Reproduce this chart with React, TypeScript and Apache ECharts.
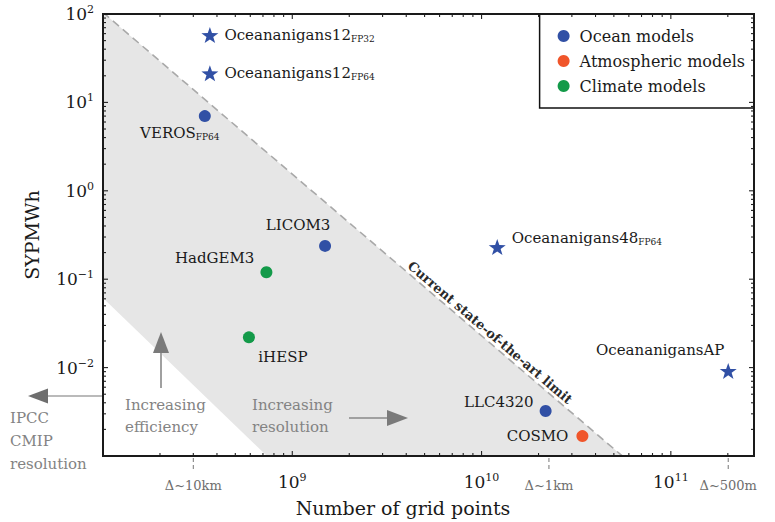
import React, { useEffect, useRef } from "react";
import * as echarts from "echarts";

// ---------- data ----------
const oceanCircleNames = ["VEROS", "LICOM3", "LLC4320"];
const oceanCircleSubs = ["FP64", "", ""];
const oceanCircleX = [3.45e8, 1.49e9, 2.18e10];
const oceanCircleY = [7.0, 0.238, 0.00323];

const oceanStarNames = ["Oceananigans12", "Oceananigans12", "Oceananigans48", "OceananigansAP"];
const oceanStarSubs = ["FP32", "FP64", "FP64", ""];
const oceanStarX = [3.67e8, 3.67e8, 1.21e10, 2.01e11];
const oceanStarY = [57.8, 21.3, 0.231, 0.00917];

const atmosNames = ["COSMO"];
const atmosX = [3.41e10];
const atmosY = [0.00168];

const climateNames = ["HadGEM3", "iHESP"];
const climateX = [7.3e8, 5.9e8];
const climateY = [0.12, 0.022];

// state-of-the-art limit (upper edge of shaded band) and lower edge
const limitX = [1e8, 1e11];
const limitY = [104, 3.4e-4];
const lowerEdgeX = [1e8, 1e9];
const lowerEdgeY = [0.0612, 5.3e-4];

const deltaX = [3.0e8, 2.27e10, 2.01e11];
const deltaLabels = ["Δ~10km", "Δ~1km", "Δ~500m"];

const legendNames = ["Ocean models", "Atmospheric models", "Climate models"];

const xMin = 1e8;
const xMax = 2.75e11;
const yMin = 1e-3;
const yMax = 1e2;
const xDecades = [8, 9, 10, 11];
const yDecades = [-3, -2, -1, 0, 1];
const minorMultipliers = [2, 3, 4, 5, 6, 7, 8, 9];

// ---------- styles / layout ----------
const FONT = "DejaVu Serif";
const BLUE = "#3150a5";
const ORANGE = "#f0552a";
const GREEN = "#139a49";
const TEXT = "#1a1a1a";
const GRAY_TEXT = "#838383";
const STAR =
  "path://M0,-10 L2.35,-3.24 L9.51,-3.09 L3.8,1.24 L5.88,8.09 L0,4 L-5.88,8.09 L-3.8,1.24 L-9.51,-3.09 L-2.35,-3.24 Z";

const circleLabelLayout = [
  { position: "bottom", offset: [-25, -4] },
  { position: "top", offset: [-27, 0] },
  { position: "left", offset: [0, -9] },
];
const starLabelLayout = [
  { position: "right", offset: [0, 0] },
  { position: "right", offset: [0, 0] },
  { position: "right", offset: [0, -9] },
  { position: "top", offset: [-68, 2] },
];
const atmosLabelLayout = [{ position: "left", offset: [0, 0] }];
const climateLabelLayout = [
  { position: "left", offset: [0, -14] },
  { position: "bottom", offset: [34, -1] },
];

const richLabel = {
  n: { fontFamily: FONT, fontSize: 15, color: TEXT, lineHeight: 17 },
  s: { fontFamily: FONT, fontSize: 9, color: TEXT, lineHeight: 11, verticalAlign: "bottom" },
};

const supMap: Record<string, string> = { "-": "−" };
function powLabel(v: number) {
  const l = Math.log10(v);
  const e = Math.round(l);
  if (Math.abs(l - e) > 1e-6) return "";
  const s = String(e).split("").map((c) => supMap[c] || c).join("");
  return `{b|10}{s|${s}}`;
}
const axisRich = {
  b: { fontFamily: FONT, fontSize: 17, color: TEXT, lineHeight: 20 },
  s: { fontFamily: FONT, fontSize: 11, color: TEXT, lineHeight: 12, verticalAlign: "top" },
};

function buildPoints(
  names: string[],
  subs: string[] | null,
  xs: number[],
  ys: number[],
  layout: { position: string; offset: number[] }[]
) {
  return xs.map((x, i) => ({
    value: [x, ys[i]],
    name: names[i],
    sub: subs ? subs[i] : "",
    label: { position: layout[i].position, offset: layout[i].offset },
  }));
}

function labelFormatter(p: any) {
  const d = p.data;
  return d.sub ? `{n|${d.name}}{s|${d.sub}}` : `{n|${d.name}}`;
}

function tickData() {
  const out: number[][] = [];
  xDecades.forEach((d) => {
    out.push([Math.pow(10, d), 1, 0]);
    minorMultipliers.forEach((m) => {
      const v = m * Math.pow(10, d);
      if (v < xMax) out.push([v, 1, 1]);
    });
  });
  yDecades.concat([2]).forEach((d) => {
    out.push([1e9, Math.pow(10, d), 2]);
    if (d < 2)
      minorMultipliers.forEach((m) => {
        out.push([1e9, m * Math.pow(10, d), 3]);
      });
  });
  return out;
}

export default function App() {
  const ref = useRef<HTMLDivElement>(null);
  useEffect(() => {
    document.body.style.margin = "0";
    const chart = echarts.init(ref.current!, null, { renderer: "svg" });

    const scatterLabel = {
      show: true,
      formatter: labelFormatter,
      rich: richLabel,
      distance: 6,
    };

    const option: any = {
      animation: false,
      backgroundColor: "#fff",
      grid: { left: 103, top: 14, right: 21, bottom: 66, containLabel: false },
      xAxis: {
        type: "log",
        logBase: 10,
        min: xMin,
        max: xMax,
        axisLine: { show: false },
        axisTick: { show: false },
        splitLine: { show: false },
        axisLabel: {
          formatter: powLabel,
          rich: axisRich,
          margin: 16,
          showMinLabel: false,
          showMaxLabel: false,
        },
        name: "Number of grid points",
        nameLocation: "middle",
        nameGap: 42,
        nameTextStyle: { fontFamily: FONT, fontSize: 19, color: TEXT, padding: [0, 51, 0, 0] },
      },
      yAxis: {
        type: "log",
        logBase: 10,
        min: yMin,
        max: yMax,
        axisLine: { show: false },
        axisTick: { show: false },
        splitLine: { show: false },
        axisLabel: {
          formatter: powLabel,
          rich: axisRich,
          margin: 9,
          showMinLabel: false,
        },
        name: "SYPMWh",
        nameLocation: "middle",
        nameGap: 62,
        nameTextStyle: { fontFamily: FONT, fontSize: 19, color: TEXT },
      },
      legend: {
        data: legendNames.map((n) => ({ name: n, icon: "circle" })),
        orient: "vertical",
        right: 21,
        top: 14,
        padding: [13, 9, 13, 18],
        itemWidth: 12,
        itemHeight: 12,
        itemGap: 7,
        borderColor: "#111",
        borderWidth: 1.5,
        backgroundColor: "#fff",
        selectedMode: false,
        textStyle: { fontFamily: FONT, fontSize: 16, color: TEXT, lineHeight: 18, padding: [0, 0, 0, 5] },
      },
      series: [
        {
          name: "shade",
          type: "custom",
          clip: true,
          z: 1,
          silent: true,
          data: [[limitX[0], limitY[0]]],
          renderItem: (_params: any, api: any) => {
            const pts = [
              api.coord([limitX[0], limitY[0]]),
              api.coord([limitX[1], limitY[1]]),
              api.coord([lowerEdgeX[1], lowerEdgeY[1]]),
              api.coord([lowerEdgeX[0], lowerEdgeY[0]]),
            ];
            return { type: "polygon", shape: { points: pts }, style: { fill: "#e6e6e6" } };
          },
        },
        {
          name: "limit",
          type: "line",
          clip: true,
          z: 2,
          silent: true,
          symbol: "none",
          data: limitX.map((x, i) => [x, limitY[i]]),
          lineStyle: { color: "#a9a9a9", width: 1.6, type: [8, 5] },
        },
        {
          name: "Ocean models",
          type: "scatter",
          z: 5,
          symbol: "circle",
          symbolSize: 12,
          itemStyle: { color: BLUE, opacity: 1 },
          label: scatterLabel,
          data: buildPoints(oceanCircleNames, oceanCircleSubs, oceanCircleX, oceanCircleY, circleLabelLayout),
        },
        {
          name: "Ocean models",
          type: "scatter",
          z: 5,
          symbol: STAR,
          symbolSize: [17, 16],
          itemStyle: { color: BLUE, opacity: 1 },
          label: scatterLabel,
          data: buildPoints(oceanStarNames, oceanStarSubs, oceanStarX, oceanStarY, starLabelLayout),
        },
        {
          name: "Atmospheric models",
          type: "scatter",
          z: 5,
          symbol: "circle",
          symbolSize: 12,
          itemStyle: { color: ORANGE, opacity: 1 },
          label: { ...scatterLabel, distance: 8 },
          data: buildPoints(atmosNames, null, atmosX, atmosY, atmosLabelLayout),
        },
        {
          name: "Climate models",
          type: "scatter",
          z: 5,
          symbol: "circle",
          symbolSize: 12,
          itemStyle: { color: GREEN, opacity: 1 },
          label: scatterLabel,
          data: buildPoints(climateNames, null, climateX, climateY, climateLabelLayout),
        },
        {
          name: "ticks",
          type: "custom",
          clip: false,
          z: 8,
          silent: true,
          data: tickData(),
          encode: { x: 0, y: 1 },
          renderItem: (params: any, api: any) => {
            const cs = params.coordSys;
            const kind = api.value(2);
            const p = api.coord([api.value(0), api.value(1)]);
            const left = cs.x,
              right = cs.x + cs.width,
              top = cs.y,
              bottom = cs.y + cs.height;
            const len = kind % 2 === 0 ? 5 : 3;
            const style = { stroke: "#222", lineWidth: 1.1 };
            if (kind < 2) {
              return {
                type: "group",
                children: [
                  { type: "line", shape: { x1: p[0], y1: bottom, x2: p[0], y2: bottom - len }, style },
                  { type: "line", shape: { x1: p[0], y1: top, x2: p[0], y2: top + len }, style },
                ],
              };
            }
            return {
              type: "group",
              children: [
                { type: "line", shape: { x1: left, y1: p[1], x2: left + len, y2: p[1] }, style },
                { type: "line", shape: { x1: right, y1: p[1], x2: right - len, y2: p[1] }, style },
              ],
            };
          },
        },
        {
          name: "frame",
          type: "custom",
          clip: false,
          z: 9,
          silent: true,
          data: [[xMin, yMin]],
          renderItem: (params: any) => {
            const cs = params.coordSys;
            return {
              type: "rect",
              shape: { x: cs.x, y: cs.y, width: cs.width, height: cs.height },
              style: { fill: "none", stroke: "#1a1a1a", lineWidth: 2 },
            };
          },
        },
        {
          name: "delta",
          type: "custom",
          clip: false,
          z: 9,
          silent: true,
          data: deltaX.map((x) => [x, yMin]),
          renderItem: (params: any, api: any) => {
            const p = api.coord([api.value(0), api.value(1)]);
            return {
              type: "group",
              children: [
                {
                  type: "line",
                  shape: { x1: p[0], y1: p[1] + 2, x2: p[0], y2: p[1] + 13 },
                  style: { stroke: "#777", lineWidth: 1, lineDash: [4, 3] },
                },
                {
                  type: "text",
                  x: p[0],
                  y: p[1] + 29,
                  style: {
                    text: deltaLabels[params.dataIndex],
                    fontFamily: FONT,
                    fontSize: 13,
                    fill: "#6e6e6e",
                    align: "center",
                    verticalAlign: "middle",
                  },
                },
              ],
            };
          },
        },
      ],
    };
    chart.setOption(option);

    // rotated label along the limit line
    const a = chart.convertToPixel({ gridIndex: 0 }, [limitX[0], limitY[0]]) as number[];
    const b = chart.convertToPixel({ gridIndex: 0 }, [limitX[1], limitY[1]]) as number[];
    const ang = Math.atan2(b[1] - a[1], b[0] - a[0]);
    const t = 0.6725;
    const cx = a[0] + (b[0] - a[0]) * t + Math.sin(ang) * 8;
    const cy = a[1] + (b[1] - a[1]) * t - Math.cos(ang) * 8;

    const arrowGray = "#7a7a7a";
    const shaftGray = "#a0a0a0";
    chart.setOption({
      graphic: [
        {
          type: "text",
          z: 100,
          x: cx,
          y: cy,
          rotation: -ang,
          style: {
            text: "Current state-of-the-art limit",
            fontFamily: FONT,
            fontSize: 13,
            fontWeight: "bold",
            fill: "#2a2a2a",
            align: "center",
            verticalAlign: "middle",
          },
        },
        // increasing efficiency arrow
        { type: "line", z: 100, shape: { x1: 161, y1: 388, x2: 161, y2: 350 }, style: { stroke: shaftGray, lineWidth: 2 } },
        { type: "polygon", z: 100, shape: { points: [[161, 332], [153, 353], [169, 353]] }, style: { fill: arrowGray } },
        {
          type: "text",
          z: 100,
          x: 125,
          y: 394,
          style: { text: "Increasing\nefficiency", fontFamily: FONT, fontSize: 15, fill: GRAY_TEXT, lineHeight: 22, verticalAlign: "top" },
        },
        // increasing resolution arrow
        { type: "line", z: 100, shape: { x1: 349, y1: 418, x2: 390, y2: 418 }, style: { stroke: shaftGray, lineWidth: 2 } },
        { type: "polygon", z: 100, shape: { points: [[408, 418], [387, 410], [387, 426]] }, style: { fill: arrowGray } },
        {
          type: "text",
          z: 100,
          x: 252,
          y: 394,
          style: { text: "Increasing\nresolution", fontFamily: FONT, fontSize: 15, fill: GRAY_TEXT, lineHeight: 22, verticalAlign: "top" },
        },
        // IPCC arrow
        { type: "line", z: 100, shape: { x1: 102, y1: 396, x2: 45, y2: 396 }, style: { stroke: "#777", lineWidth: 1.2 } },
        { type: "polygon", z: 100, shape: { points: [[28, 396], [48, 388.5], [48, 403.5]] }, style: { fill: "#6e6e6e" } },
        {
          type: "text",
          z: 100,
          x: 10,
          y: 406,
          style: { text: "IPCC\nCMIP\nresolution", fontFamily: FONT, fontSize: 15, fill: GRAY_TEXT, lineHeight: 23, verticalAlign: "top" },
        },
      ],
    });

    return () => chart.dispose();
  }, []);
  return <div ref={ref} style={{ width: 775, height: 522 }} />;
}
